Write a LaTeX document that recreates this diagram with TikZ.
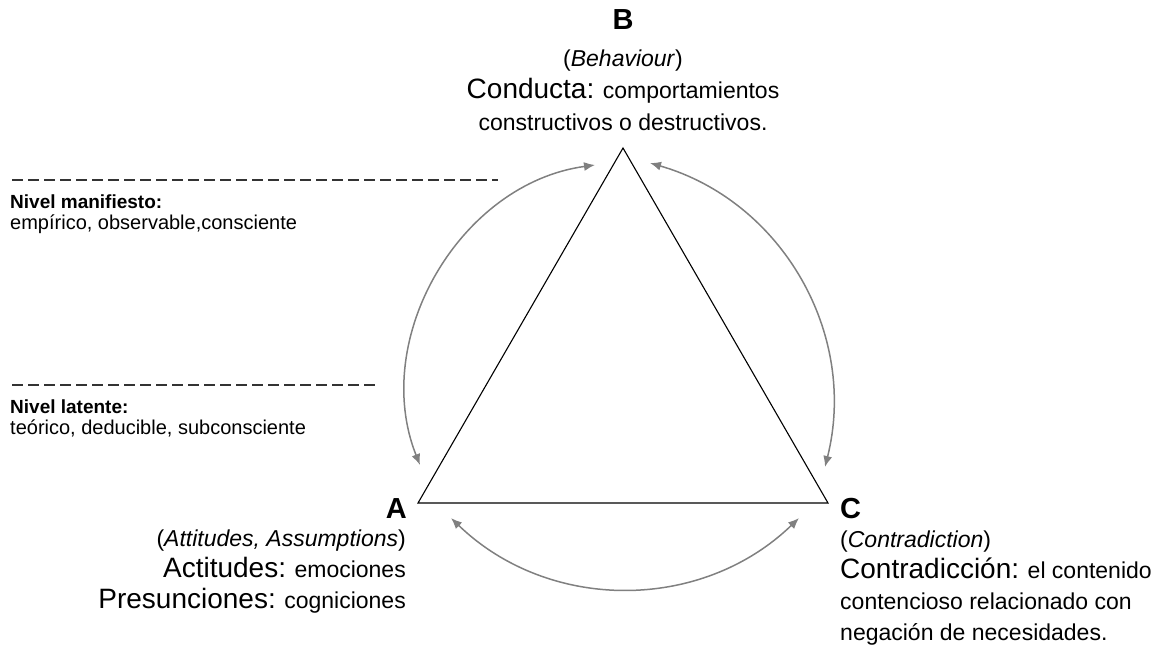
\documentclass[tikz,border=0pt]{standalone}
\usepackage{fontspec}
\setmainfont{Liberation Sans}
\usetikzlibrary{arrows.meta}

\tikzset{
  vertex/.style={font=\fontsize{29}{29}\selectfont\bfseries, inner sep=0pt},
  desc/.style={font=\fontsize{23}{#1}\selectfont, inner sep=0pt},
  desc/.default=31,
  level/.style={font=\fontsize{20}{21}\selectfont, inner sep=0pt, anchor=north west, align=left},
  cyclearrow/.style={{Latex[length=11pt,width=9pt]}-{Latex[length=11pt,width=9pt]}, black!50, line width=1.5pt},
  levelline/.style={line width=1.3pt, black!80, dash pattern=on 11pt off 5pt},
}
\newcommand{\headword}[1]{{\fontsize{28}{31}\selectfont #1}}

\begin{document}
\begin{tikzpicture}[x=1pt, y=-1pt]
  \useasboundingbox (0,0) rectangle (1158,646);

  % triangle
  \coordinate (vA) at (418,503);
  \coordinate (vB) at (623,148);
  \coordinate (vC) at (828,503);
  \draw[line width=1.1pt] (vA) -- (vB) -- (vC) -- cycle;

  \node[vertex, anchor=base east] (A) at (407,518) {A};
  \node[vertex, anchor=base] (B) at (623,29) {B};
  \node[vertex, anchor=base west] (C) at (840,518) {C};

  \node[desc=32, align=center, anchor=north] (Btext) at (623,50)
    {(\textit{Behaviour})\\ \headword{Conducta:} comportamientos\\ constructivos o destructivos.};
  \node[desc, align=right, anchor=north east] (Atext) at (406,530)
    {(\textit{Attitudes, Assumptions})\\ \headword{Actitudes:} emociones\\ \headword{Presunciones:} cogniciones};
  \node[desc=31, align=left, anchor=north west] (Ctext) at (840,531)
    {(\textit{Contradiction})\\ \headword{Contradicción:} el contenido\\ contencioso relacionado con\\ negación de necesidades.};

  % arrows round the triangle
  \coordinate (AB1) at (595,165);
  \coordinate (AB2) at (420,465);
  \coordinate (BC1) at (650,163);
  \coordinate (BC2) at (825,467);
  \coordinate (AC1) at (451,518);
  \coordinate (AC2) at (799,518);
  \draw[cyclearrow] (AB1) to[bend right=52] (AB2);
  \draw[cyclearrow] (BC1) to[bend left=44] (BC2);
  \draw[cyclearrow] (AC1) to[bend right=44] (AC2);

  % levels
  \coordinate (man1) at (12,180);
  \coordinate (man2) at (498,180);
  \coordinate (lat1) at (12,385);
  \coordinate (lat2) at (378,385);
  \draw[levelline] (man1) -- (man2);
  \draw[levelline] (lat1) -- (lat2);
  \node[level] (mantext) at (10,195) {{\fontsize{19}{21}\selectfont\bfseries Nivel manifiesto:}\\ empírico, observable,consciente};
  \node[level] (lattext) at (10,400) {{\fontsize{19}{21}\selectfont\bfseries Nivel latente:}\\ teórico, deducible, subconsciente};
\end{tikzpicture}
\end{document}
